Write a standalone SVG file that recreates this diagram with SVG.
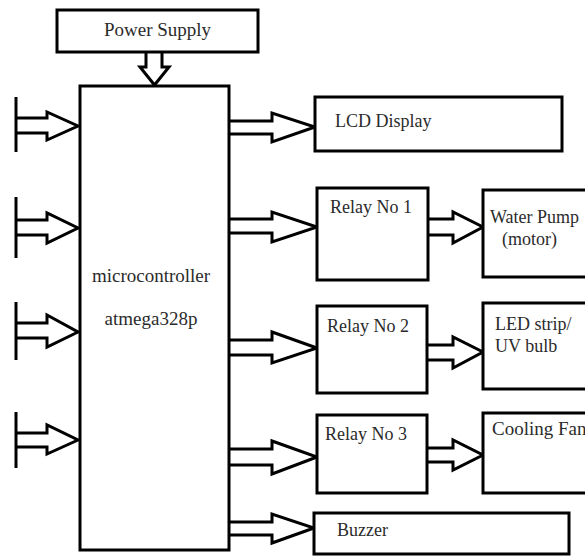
<svg xmlns="http://www.w3.org/2000/svg" width="585" height="556" viewBox="0 0 585 556">
<style>
.box{fill:#fff;stroke:#000;stroke-width:3}
.arr{fill:none;stroke:#000;stroke-width:3;stroke-linejoin:miter}
.t{font-family:"Liberation Serif","Times New Roman",Tinos,"DejaVu Serif",serif;font-size:19px;fill:#2b2b2b}
.s{font-size:18px}
</style>
<rect width="585" height="556" fill="#fff"/>
<g id="connectors">
<path class="arr" d="M146 52 V67 H140 L154.5 85 L169 67 H162 V52"/>
<line class="arr" x1="16" y1="97" x2="16" y2="152"/>
<path class="arr" d="M16 118 H47 V112 L78 126 L47 140 V133 H16"/>
<line class="arr" x1="16" y1="197" x2="16" y2="258"/>
<path class="arr" d="M16 220 H47 V213 L78 228 L47 243 V235 H16"/>
<line class="arr" x1="16" y1="302" x2="16" y2="360"/>
<path class="arr" d="M16 323 H47 V315 L78 332 L47 347 V338 H16"/>
<line class="arr" x1="16" y1="412" x2="16" y2="468"/>
<path class="arr" d="M16 433 H47 V425 L78 440 L47 454 V447 H16"/>
<path class="arr" d="M229 121 H272 V113 L315 127 L272 142 V134 H229"/>
<path class="arr" d="M229 219 H272 V212 L317 227 L272 242 V233 H229"/>
<path class="arr" d="M229 340 H272 V332 L317 348 L272 363 V355 H229"/>
<path class="arr" d="M229 449 H272 V441 L317 457 L272 474 V465 H229"/>
<path class="arr" d="M229 522 H272 V514 L314 528 L272 543 V535 H229"/>
<path class="arr" d="M428 219 H453 V212 L483 227 L453 243 V235 H428"/>
<path class="arr" d="M427 345 H453 V337 L483 352 L453 368 V360 H427"/>
<path class="arr" d="M427 448 H453 V440 L483 455 L453 470 V462 H427"/>
</g>
<g id="power-supply">
<rect class="box" x="57" y="10" width="201" height="42"/>
<text class="t" x="157.5" y="36" text-anchor="middle">Power Supply</text>
</g>
<g id="microcontroller">
<rect class="box" x="80" y="86" width="149" height="464"/>
<text class="t" x="151" y="282" text-anchor="middle">microcontroller</text>
<text class="t" x="151" y="325" text-anchor="middle">atmega328p</text>
</g>
<g id="lcd-display">
<rect class="box" x="315" y="97" width="247" height="54"/>
<text class="t s" x="335" y="127">LCD Display</text>
</g>
<g id="relay-1">
<rect class="box" x="317" y="188" width="111" height="92"/>
<text class="t s" x="330" y="213">Relay No 1</text>
</g>
<g id="water-pump">
<rect class="box" x="483" y="190" width="110" height="87"/>
<text class="t s" x="490" y="223">Water Pump</text>
<text class="t s" x="502" y="245">(motor)</text>
</g>
<g id="relay-2">
<rect class="box" x="317" y="306" width="110" height="87"/>
<text class="t s" x="327" y="332">Relay No 2</text>
</g>
<g id="led-strip">
<rect class="box" x="483" y="303" width="110" height="86"/>
<text class="t s" x="495" y="330">LED strip/</text>
<text class="t s" x="495" y="352">UV bulb</text>
</g>
<g id="relay-3">
<rect class="box" x="317" y="415" width="110" height="78"/>
<text class="t s" x="325" y="440">Relay No 3</text>
</g>
<g id="cooling-fan">
<rect class="box" x="483" y="413" width="110" height="80"/>
<text class="t" x="492" y="435">Cooling Fan</text>
</g>
<g id="buzzer">
<rect class="box" x="314" y="513" width="255" height="41"/>
<text class="t s" x="337" y="536">Buzzer</text>
</g>
</svg>
